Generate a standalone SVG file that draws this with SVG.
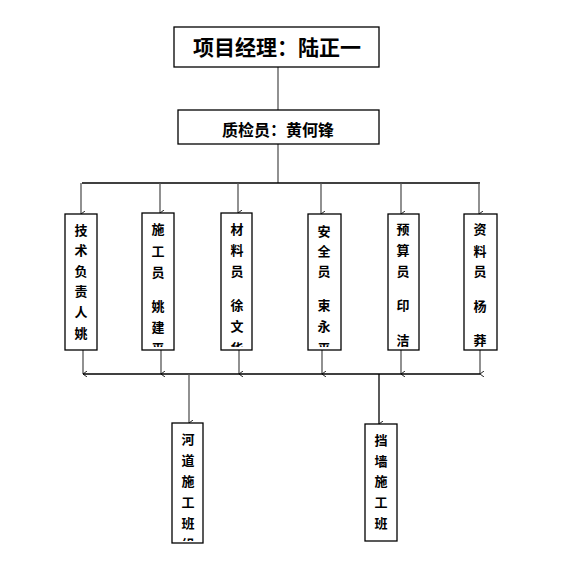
<svg xmlns="http://www.w3.org/2000/svg" width="584" height="563" viewBox="0 0 584 563">
<style>
.box{fill:#fff;stroke:#000;stroke-width:1.3}
.t{font-family:"Noto Sans CJK SC","Noto Sans CJK TC",sans-serif;font-weight:bold;fill:#000;text-anchor:middle}
.v{font-size:13px}
.ln{stroke:#555;stroke-width:1.3;fill:none}
.hl{stroke:#000;stroke-width:1.3;fill:none}
</style>
<defs>
<marker id="ar" markerWidth="6" markerHeight="6" refX="3" refY="5" orient="auto-start-reverse" markerUnits="userSpaceOnUse" viewBox="0 0 6 6">
<path d="M0,1 L3,5 L6,1" fill="none" stroke="#222" stroke-width="1"/>
</marker>
<clipPath id="c1"><rect x="65" y="214" width="32" height="133"/></clipPath>
<clipPath id="c2"><rect x="142" y="214" width="32" height="133"/></clipPath>
<clipPath id="c3"><rect x="221" y="214" width="32" height="133"/></clipPath>
<clipPath id="c4"><rect x="308" y="214" width="33" height="133"/></clipPath>
<clipPath id="c5"><rect x="388" y="214" width="31" height="133"/></clipPath>
<clipPath id="c6"><rect x="464" y="214" width="33" height="133"/></clipPath>
<clipPath id="c7"><rect x="172" y="423" width="31" height="118"/></clipPath>
<clipPath id="c8"><rect x="365" y="424" width="32" height="115"/></clipPath>
</defs>
<rect width="584" height="563" fill="#fff"/>
<g id="connectors">
<line class="ln" x1="278" y1="67" x2="278" y2="110"/>
<line class="ln" x1="278" y1="144" x2="278" y2="183"/>
<line class="hl" x1="82" y1="183" x2="480" y2="183"/>
<line class="ln" x1="81" y1="183" x2="81" y2="214" marker-end="url(#ar)"/>
<line class="ln" x1="160" y1="183" x2="160" y2="213" marker-end="url(#ar)"/>
<line class="ln" x1="238" y1="183" x2="238" y2="213" marker-end="url(#ar)"/>
<line class="ln" x1="321" y1="183" x2="321" y2="214" marker-end="url(#ar)"/>
<line class="ln" x1="401" y1="183" x2="401" y2="214" marker-end="url(#ar)"/>
<line class="ln" x1="479" y1="183" x2="479" y2="214" marker-end="url(#ar)"/>
<line class="ln" x1="83" y1="350" x2="83" y2="374" marker-end="url(#ar)"/>
<line class="ln" x1="161" y1="350" x2="161" y2="374" marker-end="url(#ar)"/>
<line class="ln" x1="239" y1="350" x2="239" y2="374" marker-end="url(#ar)"/>
<line class="ln" x1="322" y1="350" x2="322" y2="374" marker-end="url(#ar)"/>
<line class="ln" x1="401" y1="350" x2="401" y2="374" marker-end="url(#ar)"/>
<line class="ln" x1="480" y1="350" x2="480" y2="374" marker-end="url(#ar)"/>
<line class="hl" x1="83" y1="374" x2="480" y2="374"/>
<line class="ln" x1="189" y1="374" x2="189" y2="423" marker-end="url(#ar)"/>
<line class="hl" x1="379" y1="374" x2="379" y2="424" marker-end="url(#ar)"/>
</g>
<g id="pm">
<rect class="box" x="174" y="27" width="205" height="40"/>
<text class="t" x="277" y="55" font-size="21">项目经理：陆正一</text>
</g>
<g id="qc">
<rect class="box" x="178" y="110" width="201" height="34"/>
<text class="t" x="278" y="136" font-size="16">质检员：黄何锋</text>
</g>
<g id="n1">
<rect class="box" x="65" y="214" width="32" height="136"/>
<text class="t v" clip-path="url(#c1)"><tspan x="81" y="235">技</tspan><tspan x="81" y="255">术</tspan><tspan x="81" y="276">负</tspan><tspan x="81" y="296">责</tspan><tspan x="81" y="317">人</tspan><tspan x="81" y="338">姚</tspan></text>
</g>
<g id="n2">
<rect class="box" x="142" y="213" width="32" height="137"/>
<text class="t v" clip-path="url(#c2)"><tspan x="158" y="234">施</tspan><tspan x="158" y="256">工</tspan><tspan x="158" y="277">员</tspan><tspan x="158" y="311">姚</tspan><tspan x="158" y="332">建</tspan><tspan x="158" y="353">平</tspan></text>
</g>
<g id="n3">
<rect class="box" x="221" y="213" width="31" height="137"/>
<text class="t v" clip-path="url(#c3)"><tspan x="237" y="234">材</tspan><tspan x="237" y="255">料</tspan><tspan x="237" y="276">员</tspan><tspan x="237" y="310">徐</tspan><tspan x="237" y="331">文</tspan><tspan x="237" y="353">华</tspan></text>
</g>
<g id="n4">
<rect class="box" x="308" y="214" width="33" height="136"/>
<text class="t v" clip-path="url(#c4)"><tspan x="324" y="236">安</tspan><tspan x="324" y="256">全</tspan><tspan x="324" y="276">员</tspan><tspan x="324" y="310">束</tspan><tspan x="324" y="331">永</tspan><tspan x="324" y="353">平</tspan></text>
</g>
<g id="n5">
<rect class="box" x="388" y="214" width="31" height="136"/>
<text class="t v" clip-path="url(#c5)"><tspan x="403" y="234">预</tspan><tspan x="403" y="255">算</tspan><tspan x="403" y="276">员</tspan><tspan x="403" y="310">印</tspan><tspan x="403" y="345">洁</tspan></text>
</g>
<g id="n6">
<rect class="box" x="464" y="214" width="33" height="136"/>
<text class="t v" clip-path="url(#c6)"><tspan x="480" y="234">资</tspan><tspan x="480" y="256">料</tspan><tspan x="480" y="276">员</tspan><tspan x="480" y="311">杨</tspan><tspan x="480" y="345">莽</tspan></text>
</g>
<g id="n7">
<rect class="box" x="172" y="423" width="31" height="120"/>
<text class="t v" clip-path="url(#c7)"><tspan x="188" y="444">河</tspan><tspan x="188" y="465">道</tspan><tspan x="188" y="486">施</tspan><tspan x="188" y="507">工</tspan><tspan x="188" y="528">班</tspan><tspan x="188" y="549">组</tspan></text>
</g>
<g id="n8">
<rect class="box" x="365" y="424" width="32" height="117"/>
<text class="t v" clip-path="url(#c8)"><tspan x="381" y="445">挡</tspan><tspan x="381" y="466">墙</tspan><tspan x="381" y="486">施</tspan><tspan x="381" y="507">工</tspan><tspan x="381" y="528">班</tspan></text>
</g>
</svg>
